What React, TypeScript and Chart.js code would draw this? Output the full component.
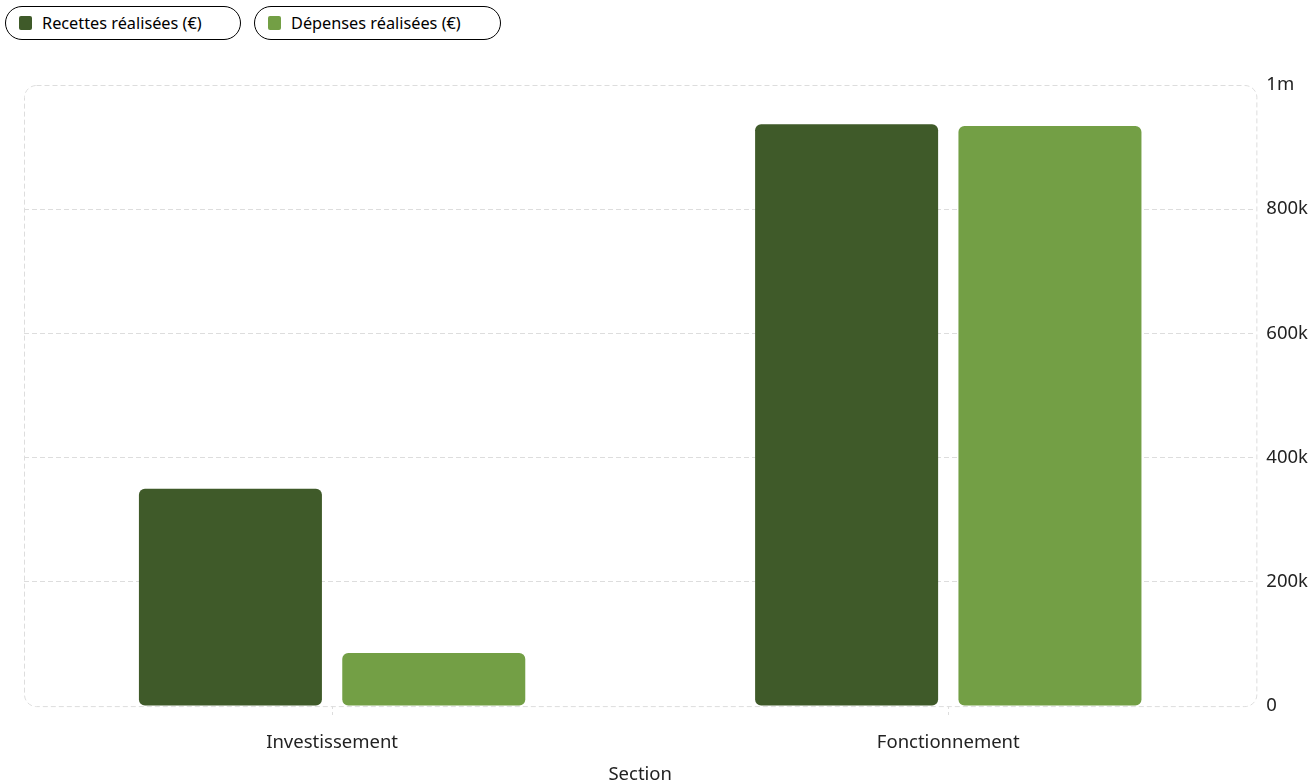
import React, { useEffect, useRef } from "react";
import { Chart, registerables } from "chart.js";

Chart.register(...registerables);

const categories = ["Investissement", "Fonctionnement"];
const recettes = [350000, 937000];
const depenses = [85500, 934000];
const seriesLabels = ["Recettes réalisées (€)", "Dépenses réalisées (€)"];
const seriesColors = ["#3F5A29", "#739F45"];
const xTitle = "Section";

const FONT = "'Noto Sans', sans-serif";

const roundedBorder = {
  id: "roundedBorder",
  beforeDatasetsDraw(chart: any) {
    const { ctx, chartArea } = chart;
    const { left, top, right, bottom } = chartArea;
    ctx.save();
    ctx.strokeStyle = "#dddddd";
    ctx.lineWidth = 1;
    ctx.setLineDash([5, 3]);
    ctx.beginPath();
    ctx.roundRect(left + 0.5, top + 0.5, right - left, bottom - top, 12);
    ctx.stroke();
    ctx.restore();
  },
};

function fmt(v: number) {
  if (v === 0) return "0";
  if (v >= 1000000) return v / 1000000 + "m";
  return v / 1000 + "k";
}

export default function App() {
  const ref = useRef<HTMLCanvasElement>(null);
  useEffect(() => {
    if (!ref.current) return;
    const chart = new Chart(ref.current, {
      type: "bar",
      data: {
        labels: categories,
        datasets: [
          {
            label: seriesLabels[0],
            data: recettes,
            backgroundColor: seriesColors[0],
            borderRadius: 6,
            borderSkipped: false,
            categoryPercentage: 0.66,
            barPercentage: 0.9,
          },
          {
            label: seriesLabels[1],
            data: depenses,
            backgroundColor: seriesColors[1],
            borderRadius: 6,
            borderSkipped: false,
            categoryPercentage: 0.66,
            barPercentage: 0.9,
          },
        ],
      },
      options: {
        animation: false,
        responsive: false,
        maintainAspectRatio: false,
        layout: { padding: { top: 85, left: 24, right: -5, bottom: -1.5 } },
        plugins: {
          legend: { display: false },
          tooltip: { enabled: false },
        },
        scales: {
          x: {
            grid: {
              offset: false,
              drawOnChartArea: false,
              drawTicks: true,
              tickLength: 12,
              color: "#dddddd",
              tickBorderDash: [3, 3],
            },
            border: { display: false },
            ticks: {
              color: "#222",
              font: { family: FONT, size: 18.5 },
              padding: 14,
            },
            title: {
              display: true,
              text: xTitle,
              color: "#222",
              font: { family: FONT, size: 18.5 },
              padding: { top: -5, bottom: 0 },
            },
          },
          y: {
            position: "right",
            min: 0,
            max: 1000000,
            ticks: {
              stepSize: 200000,
              callback: (v: any) => fmt(Number(v)),
              color: "#222",
              font: { family: FONT, size: 18.5 },
              padding: 10,
            },
            grid: {
              drawTicks: false,
              color: (c: any) =>
                c.tick && (c.tick.value === 0 || c.tick.value === 1000000)
                  ? "rgba(0,0,0,0)"
                  : "#dddddd",
            },
            border: { display: false, dash: [5, 3] },
          },
        },
      },
      plugins: [roundedBorder],
    } as any);
    return () => chart.destroy();
  }, []);

  const pill = (i: number, width: number, left: number) => (
    <div
      key={i}
      style={{
        position: "absolute",
        top: 6,
        left,
        width,
        height: 34,
        boxSizing: "border-box",
        border: "1.5px solid #000",
        borderRadius: 17,
        display: "flex",
        alignItems: "center",
        paddingLeft: 13,
        fontFamily: FONT,
        fontSize: 16.3,
        color: "#000",
        background: "#fff",
        whiteSpace: "nowrap",
      }}
    >
      <span
        style={{
          display: "inline-block",
          width: 13,
          height: 14,
          borderRadius: 2,
          background: seriesColors[i],
          marginRight: 10,
        }}
      />
      <span>{seriesLabels[i]}</span>
    </div>
  );

  return (
    <div style={{ position: "absolute", left: 0, top: 0, width: 1313, height: 784, background: "#fff" }}>
      <canvas ref={ref} width={1313} height={784} style={{ position: "absolute", left: 0, top: 0, width: 1313, height: 784 }} />
      {pill(0, 236, 5)}
      {pill(1, 247, 254)}
    </div>
  );
}
